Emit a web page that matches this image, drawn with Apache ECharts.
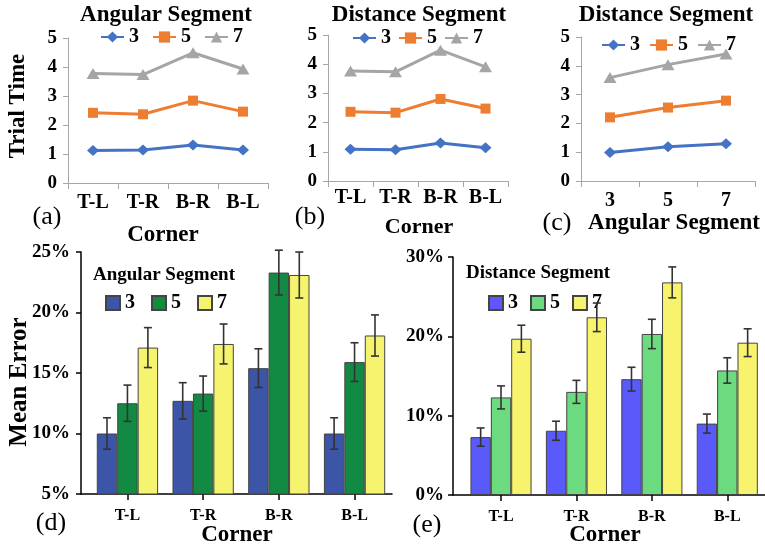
<!DOCTYPE html>
<html><head><meta charset="utf-8">
<script src="https://cdn.jsdelivr.net/npm/echarts@6/dist/echarts.min.js"></script>
<style>html,body{margin:0;padding:0;background:#fff}#c{width:765px;height:548px}</style>
</head><body><div id="c"></div>
<script>
// ---------- data ----------
const corners = ['T-L', 'T-R', 'B-R', 'B-L'];
const angularTicks = ['3', '5', '7'];
// (a) trial time by corner, angular segment series
const timeA3 = [1.12, 1.14, 1.31, 1.14];
const timeA5 = [2.42, 2.37, 2.84, 2.46];
const timeA7 = [3.78, 3.74, 4.49, 3.93];
// (b) trial time by corner, distance segment series
const timeB3 = [1.09, 1.07, 1.30, 1.14];
const timeB5 = [2.37, 2.34, 2.81, 2.48];
const timeB7 = [3.77, 3.74, 4.48, 3.91];
// (c) trial time by angular segment, distance segment series
const timeC3 = [0.99, 1.19, 1.29];
const timeC5 = [2.21, 2.55, 2.79];
const timeC7 = [3.59, 4.04, 4.41];
// (d) mean error (%) by corner, angular segment
const errD3 = [10.0, 12.7, 15.4, 10.0];
const errD5 = [12.5, 13.3, 23.3, 15.9];
const errD7 = [17.1, 17.4, 23.1, 18.1];
const ciD3 = [1.3, 1.5, 1.6, 1.3];
const ciD5 = [1.5, 1.45, 1.85, 1.6];
const ciD7 = [1.65, 1.65, 1.9, 1.7];
// (e) mean error (%) by corner, distance segment
const errE3 = [7.3, 8.1, 14.6, 9.0];
const errE5 = [12.3, 13.0, 20.3, 15.7];
const errE7 = [19.7, 22.4, 26.8, 19.2];
const ciE3 = [1.15, 1.2, 1.5, 1.2];
const ciE5 = [1.45, 1.45, 1.85, 1.6];
const ciE7 = [1.7, 1.8, 1.95, 1.75];

// ---------- styles ----------
const FF = 'Liberation Serif';
const lineColors = ['#4472C4', '#ED7D31', '#A5A5A5'];
const lineSymbols = ['diamond', 'rect', 'triangle'];
const lineSymSize = [[12, 11], 10, [13, 11]];
const barColorsD = ['#3C55A6', '#128A43', '#F6F36E'];
const barColorsE = ['#5A5AFA', '#6CDB80', '#F8F36C'];
const GAP = 0.19;

const chart = echarts.init(document.getElementById('c'), null, {renderer: 'canvas'});

function lineSeries(prefix, gi, arrs) {
  return arrs.map((d, k) => ({
    type: 'line', name: prefix + ['3', '5', '7'][k], xAxisIndex: gi, yAxisIndex: gi,
    data: d, symbol: lineSymbols[k], symbolSize: lineSymSize[k],
    lineStyle: {width: 3, color: lineColors[k]},
    itemStyle: {color: lineColors[k]}, animation: false
  }));
}
function barSeries(prefix, gi, arrs, colors) {
  return arrs.map((d, k) => ({
    type: 'bar', name: prefix + ['3', '5', '7'][k], xAxisIndex: gi, yAxisIndex: gi,
    data: d, barGap: '0%', barCategoryGap: (GAP * 100) + '%',
    itemStyle: {color: colors[k], borderColor: '#444', borderWidth: 1}, animation: false
  }));
}
function errSeries(gi, vals, errs, k) {
  return {
    type: 'custom', xAxisIndex: gi, yAxisIndex: gi, z: 10, animation: false,
    data: vals.map((v, i) => [i, v, errs[i]]),
    encode: {x: 0, y: 1},
    renderItem(params, api) {
      const i = api.value(0), v = api.value(1), e = api.value(2);
      const catW = api.size([1, 0])[0];
      const bw = catW * (1 - GAP) / 3;
      const cx = api.coord([i, v])[0] + (k - 1) * bw;
      const top = api.coord([i, v + e])[1], bot = api.coord([i, v - e])[1];
      const st = {stroke: '#333', lineWidth: 1.6};
      const cap = 4;
      return {type: 'group', children: [
        {type: 'line', shape: {x1: cx, y1: top, x2: cx, y2: bot}, style: st},
        {type: 'line', shape: {x1: cx - cap, y1: top, x2: cx + cap, y2: top}, style: st},
        {type: 'line', shape: {x1: cx - cap, y1: bot, x2: cx + cap, y2: bot}, style: st}
      ]};
    }
  };
}

const lblBold = (size, extra) => Object.assign({fontFamily: FF, fontWeight: 'bold', fontSize: size, color: '#000'}, extra || {});
const grayAxis = '#A6A6A6';

function lineXAxis(gi, data, margin) {
  return {type: 'category', gridIndex: gi, data: data, boundaryGap: true,
    axisLine: {show: true, lineStyle: {color: grayAxis, width: 1}},
    axisTick: {show: true, length: 6, lineStyle: {color: grayAxis}},
    axisLabel: lblBold(20, {margin: margin, interval: 0}), splitLine: {show: false}};
}
function lineYAxis(gi, margin) {
  return {type: 'value', gridIndex: gi, min: 0, max: 5, interval: 1,
    axisLine: {show: true, lineStyle: {color: grayAxis, width: 1}},
    axisTick: {show: true, length: 5, lineStyle: {color: grayAxis}},
    axisLabel: lblBold(19, {margin: margin}), splitLine: {show: false}};
}

function txt(text, x, y, size, bold, rot) {
  return {type: 'text', x: x, y: y, rotation: rot || 0, z: 100,
    style: {text: text, fill: '#000', align: 'center', verticalAlign: 'middle',
      fontFamily: FF, fontWeight: bold ? 'bold' : 'normal', fontSize: size}};
}

const legendBase = (data, left, top, gap, w, h) => ({
  data: data, left: left, top: top, orient: 'horizontal', padding: 0,
  itemGap: gap, itemWidth: w, itemHeight: h,
  formatter: n => n.slice(1), textStyle: lblBold(20), selectedMode: false
});

const option = {
  animation: false,
  backgroundColor: '#fff',
  grid: [
    {left: 68, top: 38, width: 200, height: 145, outerBoundsMode: 'none'},
    {left: 328, top: 35, width: 180, height: 146, outerBoundsMode: 'none'},
    {left: 581, top: 37, width: 174, height: 144, outerBoundsMode: 'none'},
    {left: 81, top: 252, width: 311, height: 242, outerBoundsMode: 'none'},
    {left: 89.6, top: 252, width: 302.8, height: 242, outerBoundsMode: 'none'},
    {left: 453, top: 257, width: 312, height: 238, outerBoundsMode: 'none'},
    {left: 463.3, top: 257, width: 301.7, height: 238, outerBoundsMode: 'none'}
  ],
  xAxis: [
    lineXAxis(0, corners, 10),
    lineXAxis(1, corners, 7),
    lineXAxis(2, angularTicks, 10),
    {type: 'value', gridIndex: 3, min: 0, max: 1, axisLine: {show: true, lineStyle: {color: '#000', width: 1.5}},
      axisTick: {show: false}, axisLabel: {show: false}, splitLine: {show: false}},
    {type: 'category', gridIndex: 4, data: corners, boundaryGap: true,
      axisLine: {show: false}, axisTick: {show: true, alignWithLabel: true, length: 6, lineStyle: {color: '#000', width: 1.5}},
      axisLabel: lblBold(16, {margin: 14, interval: 0}), splitLine: {show: false}},
    {type: 'value', gridIndex: 5, min: 0, max: 1, axisLine: {show: true, lineStyle: {color: '#000', width: 1.5}},
      axisTick: {show: false}, axisLabel: {show: false}, splitLine: {show: false}},
    {type: 'category', gridIndex: 6, data: corners, boundaryGap: true,
      axisLine: {show: false}, axisTick: {show: true, alignWithLabel: true, length: 6, lineStyle: {color: '#000', width: 1.5}},
      axisLabel: lblBold(16, {margin: 14, interval: 0}), splitLine: {show: false}}
  ],
  yAxis: [
    lineYAxis(0, 11),
    lineYAxis(1, 11),
    lineYAxis(2, 11),
    {type: 'value', gridIndex: 3, min: 5, max: 25, interval: 5,
      axisLine: {show: true, lineStyle: {color: '#000', width: 1.5}},
      axisTick: {show: true, length: 5, lineStyle: {color: '#000', width: 1.5}},
      axisLabel: lblBold(19, {margin: 11, formatter: '{value}%'}), splitLine: {show: false}},
    {type: 'value', gridIndex: 4, min: 5, max: 25, interval: 5, show: false},
    {type: 'value', gridIndex: 5, min: 0, max: 30, interval: 10,
      axisLine: {show: true, lineStyle: {color: '#000', width: 1.5}},
      axisTick: {show: true, length: 5, lineStyle: {color: '#000', width: 1.5}},
      axisLabel: lblBold(19, {margin: 9, formatter: '{value}%'}), splitLine: {show: false}},
    {type: 'value', gridIndex: 6, min: 0, max: 30, interval: 10, show: false}
  ],
  legend: [
    legendBase(['a3', 'a5', 'a7'], 100, 27, 13, 23, 14),
    legendBase(['b3', 'b5', 'b7'], 352, 28, 7, 23, 14),
    legendBase(['c3', 'c5', 'c7'], 601, 35, 9, 23, 14),
    Object.assign(legendBase(['d3', 'd5', 'd7'], 105, 293, 16, 14, 14), {icon: 'rect'}),
    Object.assign(legendBase(['e3', 'e5', 'e7'], 488, 293, 12, 14, 14), {icon: 'rect'})
  ],
  series: [].concat(
    lineSeries('a', 0, [timeA3, timeA5, timeA7]),
    lineSeries('b', 1, [timeB3, timeB5, timeB7]),
    lineSeries('c', 2, [timeC3, timeC5, timeC7]),
    barSeries('d', 4, [errD3, errD5, errD7], barColorsD),
    [errSeries(4, errD3, ciD3, 0), errSeries(4, errD5, ciD5, 1), errSeries(4, errD7, ciD7, 2)],
    barSeries('e', 6, [errE3, errE5, errE7], barColorsE),
    [errSeries(6, errE3, ciE3, 0), errSeries(6, errE5, ciE5, 1), errSeries(6, errE7, ciE7, 2)]
  ),
  graphic: [
    txt('Angular Segment', 166, 15, 23, true),
    txt('Distance Segment', 419, 15, 23, true),
    txt('Distance Segment', 666, 15, 23, true),
    txt('Trial Time', 18, 106, 23, true, Math.PI / 2),
    txt('(a)', 47, 217, 26, false),
    txt('Corner', 163, 235, 23, true),
    txt('(b)', 310, 217, 26, false),
    txt('Corner', 419, 227, 22, true),
    txt('(c)', 557, 223, 26, false),
    txt('Angular Segment', 674, 223, 23, true),
    txt('Mean Error', 20, 382, 25, true, Math.PI / 2),
    txt('Angular Segment', 164, 275, 19, true),
    txt('(d)', 51, 523, 26, false),
    txt('Corner', 237, 535, 23, true),
    txt('Distance Segment', 538, 273, 19, true),
    txt('(e)', 427, 525, 26, false),
    txt('Corner', 605, 535, 23, true)
  ]
};
chart.setOption(option);
</script>
</body></html>
